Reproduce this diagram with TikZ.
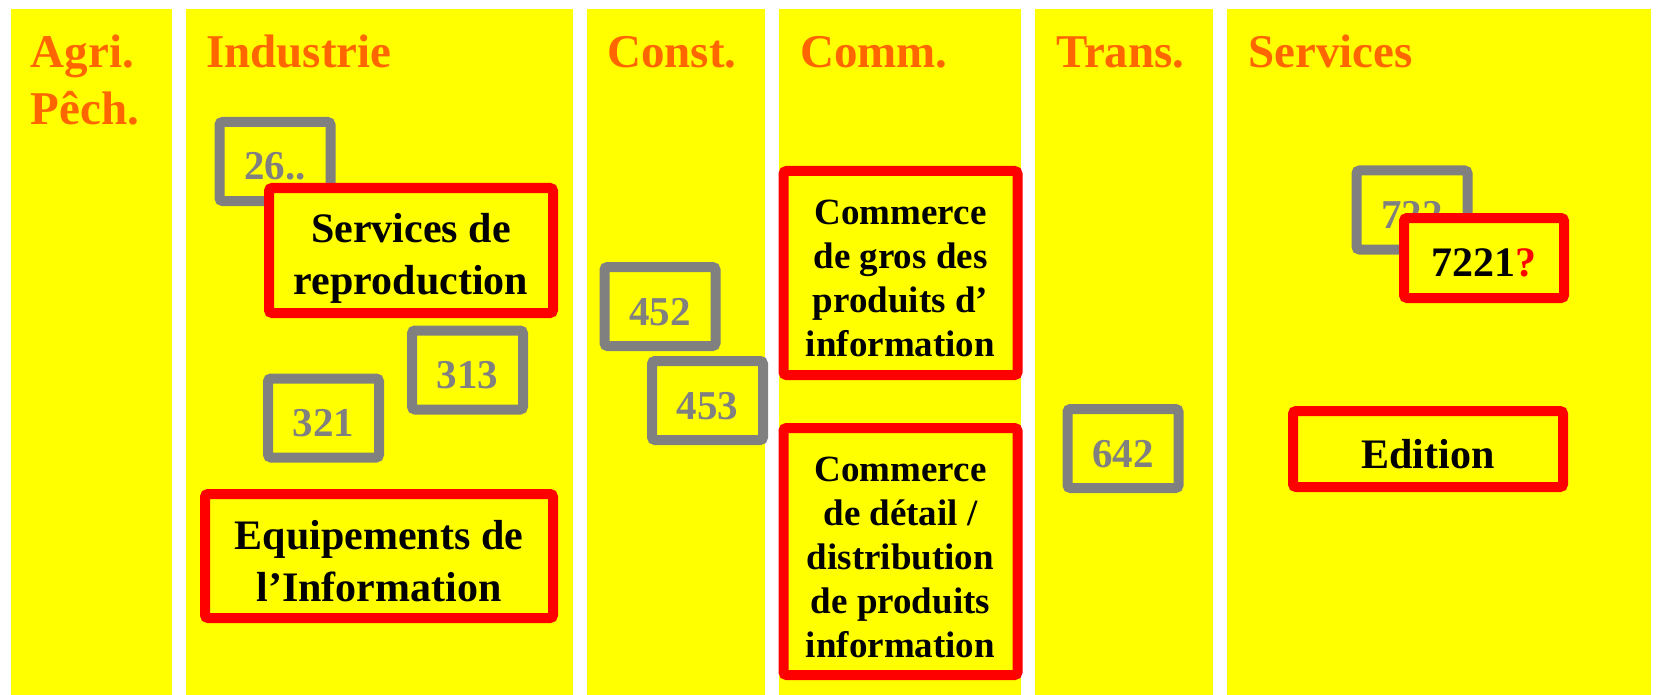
\documentclass[tikz,border=0pt]{standalone}
\usepackage{fontspec}
\setmainfont{Liberation Serif}
\definecolor{orangeh}{RGB}{255,102,0}
\definecolor{grayb}{RGB}{128,128,128}
\definecolor{yel}{RGB}{255,255,0}
\definecolor{redb}{RGB}{255,0,0}
\newcommand{\upA}{\rule{0pt}{38.5pt}}
\newcommand{\upB}{\rule{0pt}{35.5pt}}
\newcommand{\upC}{\rule{0pt}{37.5pt}}
\newcommand{\upD}{\rule{0pt}{44pt}}
\begin{document}
\begin{tikzpicture}[x=1pt,y=-1pt,
  col/.style={fill=yel},
  head/.style={text=orangeh,font=\fontsize{47}{57}\selectfont\bfseries,inner sep=0pt,anchor=base west},
  graybox/.style={draw=grayb,line width=10pt,fill=yel,rounded corners=3pt,minimum width=111pt,minimum height=79pt,inner sep=0pt,text=grayb,font=\fontsize{41}{49}\selectfont\bfseries},
  redbox/.style={draw=redb,line width=10pt,fill=yel,rounded corners=3pt,inner sep=0pt,align=center,font=\fontsize{42}{52}\selectfont\bfseries},
  combox/.style={redbox,font=\fontsize{37}{44}\selectfont\bfseries}]
\useasboundingbox (0,0) rectangle (1661,695);
\fill[white] (0,0) rectangle (1661,695);
% columns
\fill[col] (10.7,9) rectangle (172,695);
\fill[col] (186,9) rectangle (573,695);
\fill[col] (587,9) rectangle (765,695);
\fill[col] (779,9) rectangle (1021,695);
\fill[col] (1035,9) rectangle (1213,695);
\fill[col] (1227,9) rectangle (1651,695);
% headings
\node[head] (agri) at (30.5,68) {Agri.};
\node[head] (pech) at (30.5,125) {Pêch.};
\node[head] (indus) at (206,68) {Industrie};
\node[head] (const) at (607,68) {Const.};
\node[head] (comm) at (800,68) {Comm.};
\node[head] (trans) at (1056,68) {Trans.};
\node[head] (serv) at (1248,68) {Services};
% Industrie
\node[graybox] (g26) at (275,161.5) {\upC 26..};
\node[redbox,minimum width=284pt,minimum height=125pt] (repro) at (411,250.5) {\upD Services de\\reproduction};
\node[graybox] (g313) at (467.5,370) {\upC 313};
\node[graybox] (g321) at (323.5,418) {\upC 321};
\node[redbox,minimum width=348pt,minimum height=124pt] (equip) at (379,556) {\upA Equipements de\\l’Information};
% Const.
\node[graybox] (g452) at (660,306.5) {\upC 452};
\node[graybox] (g453) at (707.5,400.5) {\upC 453};
% Comm.
\node[combox,minimum width=234pt,minimum height=204pt] (gros) at (900.5,273) {\upB Commerce\\de gros des\\produits d’\\information};
\node[combox,minimum width=234pt,minimum height=247pt] (detail) at (900.5,551.5) {\upB Commerce\\de détail /\\distribution\\de produits\\information};
% Trans.
\node[graybox] (g642) at (1123,448.5) {\upC 642};
% Services
\node[graybox] (g722) at (1412,210) {\upC 722};
\node[redbox,minimum width=160pt,minimum height=80pt] (r7221) at (1484,258) {\upA 7221\textcolor{redb}{?}};
\node[redbox,minimum width=270pt,minimum height=76pt] (edition) at (1428,449) {\upA Edition};
\end{tikzpicture}
\end{document}
